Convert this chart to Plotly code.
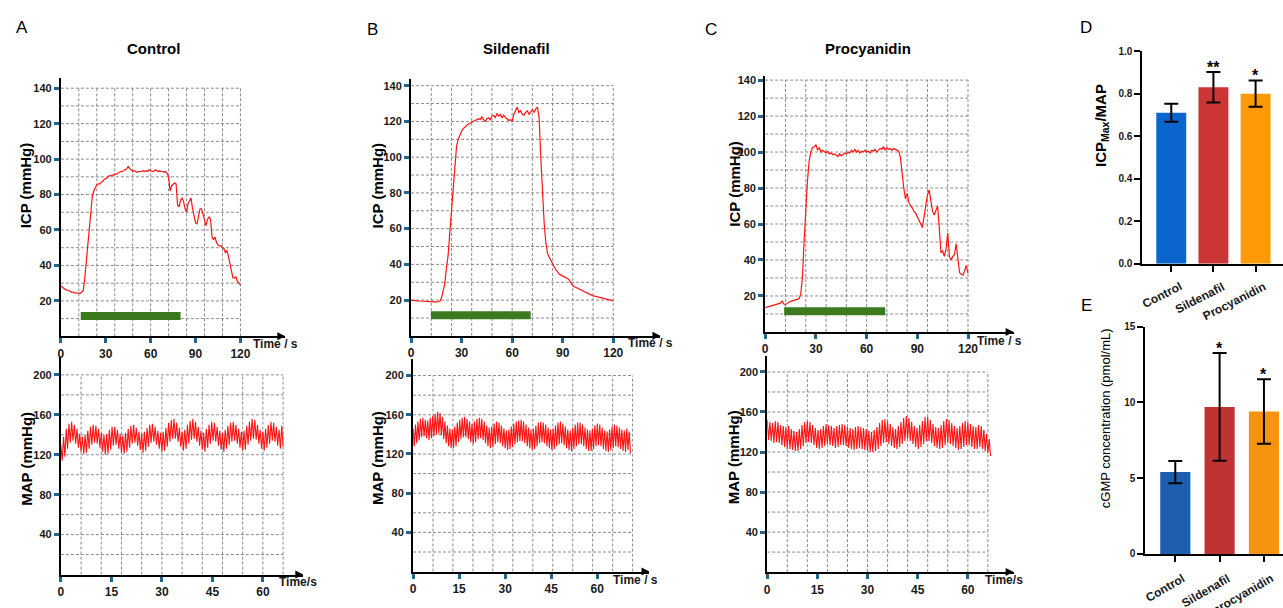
import plotly.graph_objects as go

W, H = 1283, 608

# ---------------- data ----------------
icp_time = list(range(121))
icp_control = [
    28.5, 27.5, 27, 26.5, 26, 26, 25.5, 25, 25, 24.5,
    24.5, 24.5, 24.3, 24.2, 25, 26, 33, 42, 54, 64,
    73, 79, 82, 84, 85.5, 86, 86, 87, 87.5, 88.5,
    89, 89.5, 90.5, 90.5, 91, 91, 91.5, 91.5, 92, 92.5,
    93, 93, 93.5, 94, 94.5, 96, 94.5, 94, 93, 93.5,
    93, 92.5, 93, 93, 93, 93.5, 93, 93.5, 93, 94,
    93.5, 93, 93, 94, 93.5, 93, 93.5, 93, 93, 92.5,
    93, 92, 90, 82, 85, 86, 86.5, 86, 74, 73,
    77, 78, 76, 72, 70, 75, 77, 78, 72, 67,
    64, 63.5, 67, 72, 72, 69, 65, 62.5, 66, 67.5,
    66, 56, 54.5, 56, 53, 51.5, 51, 51, 50, 49.5,
    47, 48.5, 45, 41, 36, 33, 33, 33.5, 31, 30, 29]
icp_sildenafil = [
    20, 20, 19.8, 19.8, 19.6, 19.5, 19.4, 19.3, 19.2, 19.2,
    19.1, 19, 19, 19, 19, 19, 19, 19.2, 21, 25,
    29, 38, 45, 58, 70, 86, 98, 106, 110, 112.5,
    114.5, 116, 117, 118, 118.5, 119, 119.5, 120, 120.5, 121,
    121.5, 121, 122.5, 121, 120, 121.5, 122, 121, 123, 123.5,
    122, 124.5, 123, 124, 122, 123.5, 122, 121.5, 120.5, 121,
    120, 124, 126.5, 128, 125, 126, 124, 123.5, 125, 126,
    124, 125, 126.5, 125, 127, 128, 122, 100, 78, 63,
    52, 46, 44, 42, 40, 38.5, 37, 35.5, 34.5, 34,
    33.5, 33, 32.5, 32, 31, 29.5, 28, 27.5, 27, 26.5,
    26, 25.5, 25, 24.5, 24, 23.5, 23, 22.7, 22.4, 22.2,
    22, 21.8, 21.5, 21.3, 21, 20.8, 20.5, 20.2, 20, 19.8, 19.6]
icp_procyanidin = [
    13.5, 13.8, 14, 14.3, 14.5, 14.8, 15, 15.3, 15.6, 16,
    17.2, 15.5, 15.3, 16, 16.5, 17, 17.3, 17.5, 17.8, 18,
    18.5, 21, 30, 50, 68, 84, 95, 100, 102.5, 103,
    104, 101, 102.5, 100, 101, 100, 99.5, 100.5, 99, 99.5,
    98.5, 99, 98, 97.5, 99, 98, 98.5, 99.5, 99, 100,
    99.5, 101, 100, 101.5, 100, 101, 99.5, 100.5, 100, 101,
    100, 100.5, 99.5, 101, 100.5, 101.5, 100, 101, 102, 101.5,
    103, 101, 102.5, 101.5, 102, 101, 102, 101.5, 101, 100.5,
    97, 87, 80, 74, 77, 72, 70, 69, 67, 66,
    64, 62, 60, 58, 64, 71, 76, 79, 72, 67,
    65, 68, 70, 58, 44, 45, 42, 46, 55, 42,
    40, 42, 43, 49, 42, 33, 32, 31.5, 34, 37, 32.5]

stim_control = [13.3, 80]
stim_sildenafil = [11.8, 71]
stim_procyanidin = [11.2, 71]
stim_level = 11.5

beat_period = 0.8
map_control_hi = [
    130, 138, 146, 151, 153, 150, 146, 141,
    138, 140, 144, 148, 150, 149, 146, 142,
    140, 141, 145, 148, 148, 145, 141,
    139, 142, 146, 149, 150, 147, 143, 141,
    143, 147, 150, 151, 148, 144, 142,
    143, 147, 152, 155, 156, 152, 147, 143,
    145, 150, 154, 156, 153, 148, 144,
    142, 146, 150, 153, 152, 148, 144, 142,
    145, 149, 152, 153, 150, 146, 143,
    144, 149, 153, 156, 155, 150, 145, 143,
    146, 150, 153, 152, 148, 145, 149]
map_control_lo = [
    114, 118, 126, 132, 134, 131, 127, 123,
    121, 122, 126, 130, 132, 131, 127, 123,
    120, 121, 125, 129, 130, 126, 122,
    121, 123, 127, 131, 132, 129, 125, 122,
    124, 128, 132, 133, 130, 126, 123,
    124, 128, 133, 136, 136, 133, 128, 124,
    126, 131, 135, 136, 133, 129, 125,
    123, 127, 131, 134, 133, 129, 125, 123,
    126, 130, 133, 134, 131, 127, 124,
    125, 130, 134, 136, 135, 131, 126, 124,
    127, 131, 134, 133, 129, 126, 128]
map_sildenafil_hi = [
    146, 150, 153, 156, 157, 155, 154, 157,
    159, 161, 163, 162, 158, 153, 149, 146,
    145, 148, 152, 155, 157, 158, 156,
    153, 151, 153, 156, 157, 156, 153, 149,
    147, 148, 151, 153, 152, 149, 146,
    144, 145, 148, 151, 153, 154, 155, 153,
    150, 147, 145, 146, 149, 152, 153,
    152, 150, 147, 145, 146, 149, 152, 153,
    151, 148, 145, 144, 147, 150, 152,
    152, 150, 147, 145, 144, 146, 149, 151,
    150, 147, 144, 143, 145, 148, 150,
    149, 147, 145, 144, 146, 143]
map_sildenafil_lo = [
    128, 131, 134, 137, 138, 136, 134, 136,
    138, 140, 141, 139, 135, 131, 128, 126,
    126, 128, 132, 135, 137, 137, 135,
    132, 130, 132, 135, 136, 134, 131, 128,
    126, 127, 130, 132, 131, 128, 126,
    124, 125, 127, 130, 132, 133, 133, 131,
    128, 126, 124, 125, 128, 131, 132,
    131, 128, 126, 124, 125, 128, 130, 131,
    129, 126, 124, 123, 125, 128, 130,
    130, 128, 125, 123, 123, 125, 128, 129,
    128, 125, 123, 122, 124, 126, 128,
    127, 125, 123, 122, 124, 121]
map_procyanidin_hi = [
    152, 150, 149, 151, 150, 147, 146, 145,
    146, 143, 141, 140, 143, 147, 150, 151,
    150, 147, 144, 142, 143, 146, 148,
    147, 146, 144, 146, 147, 148, 147, 145,
    144, 143, 145, 146, 145, 144, 143,
    141, 140, 142, 145, 149, 152, 153, 151,
    148, 145, 143, 146, 150, 154, 156,
    154, 150, 146, 144, 147, 151, 155, 155,
    152, 148, 145, 144, 147, 151, 153,
    152, 149, 146, 144, 146, 149, 151, 150,
    148, 146, 145, 147, 146, 142, 138, 133]
map_procyanidin_lo = [
    132, 131, 129, 130, 129, 127, 125, 123,
    123, 122, 121, 121, 123, 126, 129, 130,
    129, 127, 124, 123, 124, 126, 128,
    127, 126, 124, 125, 127, 127, 126, 124,
    123, 122, 123, 124, 123, 122, 121,
    120, 120, 121, 123, 126, 129, 130, 128,
    126, 124, 123, 125, 128, 131, 133,
    131, 128, 125, 123, 125, 128, 131, 131,
    129, 126, 124, 123, 124, 127, 129,
    128, 126, 124, 122, 123, 125, 127, 127,
    125, 123, 123, 125, 123, 121, 119, 116]

icp_ticks = [20, 40, 60, 80, 100, 120, 140]
map_ticks = [40, 80, 120, 160, 200]
icp_time_ticks = [0, 30, 60, 90, 120]
map_time_ticks = [0, 15, 30, 45, 60]

groups = ["Control", "Sildenafil", "Procyanidin"]
ratio_mean = [0.71, 0.83, 0.80]
ratio_err = [0.042, 0.072, 0.062]
ratio_sig = ["", "**", "*"]
ratio_ticks = [0.0, 0.2, 0.4, 0.6, 0.8, 1.0]

cgmp_groups = ["Control", "Sildenafil", "procyanidin"]
cgmp_mean = [5.4, 9.7, 9.4]
cgmp_err = [0.74, 3.55, 2.13]
cgmp_sig = ["", "*", "*"]
cgmp_ticks = [0, 5, 10, 15]

# ---------------- styling ----------------
FONT = "Liberation Sans, Arial, sans-serif"
RED = "#ff1414"
TICKBLUE = "#1f6690"
GREEN = "#3b7a1f"
GRIDC = "#8a8a8a"
ratio_colors = ["#0a66cc", "#cc3535", "#ff9a05"]
cgmp_colors = ["#1d5fae", "#c13232", "#f7940f"]


def dom_x(a, b):
    return [a / W, b / W]


def dom_y(top, bottom):
    return [1 - bottom / H, 1 - top / H]


def pp(xp, yp):
    return xp / W, 1 - yp / H


fig = go.Figure()
shapes = []
annotations = []

panels = [
    dict(n=1, xp=(58, 283), yp=(73, 337), xr=(0, 150), yr=(0, 146), gdx=12, gxm=120, gdy=10, gym=140, kind="icp",
         t=icp_time, v=icp_control, stim=stim_control),
    dict(n=2, xp=(58, 301), yp=(358, 580), xr=(0, 72), yr=(0, 218), gdx=6, gxm=66, gdy=20, gym=200, kind="map",
         hi=map_control_hi, lo=map_control_lo),
    dict(n=3, xp=(409, 659), yp=(74, 336.5), xr=(0, 148), yr=(0, 144), gdx=12, gxm=120, gdy=10, gym=140, kind="icp",
         t=icp_time, v=icp_sildenafil, stim=stim_sildenafil),
    dict(n=4, xp=(411, 648), yp=(360, 577), xr=(0, 77), yr=(0, 217), gdx=6.5, gxm=71.5, gdy=20, gym=200, kind="map",
         hi=map_sildenafil_hi, lo=map_sildenafil_lo),
    dict(n=5, xp=(764, 1013), yp=(71, 332.5), xr=(0, 147), yr=(0, 142.5), gdx=12, gxm=120, gdy=10, gym=140, kind="icp",
         t=icp_time, v=icp_procyanidin, stim=stim_procyanidin),
    dict(n=6, xp=(766, 1013), yp=(357, 577.5), xr=(0, 73.7), yr=(0, 216), gdx=6, gxm=66, gdy=20, gym=200, kind="map",
         hi=map_procyanidin_hi, lo=map_procyanidin_lo),
]

layout_axes = {}
for p in panels:
    n = p["n"]
    xa = "x" if n == 1 else f"x{n}"
    ya = "y" if n == 1 else f"y{n}"
    xkey = "xaxis" if n == 1 else f"xaxis{n}"
    ykey = "yaxis" if n == 1 else f"yaxis{n}"
    icp = p["kind"] == "icp"
    layout_axes[xkey] = dict(
        domain=dom_x(*p["xp"]), range=list(p["xr"]), anchor=ya,
        showline=True, linecolor="black", linewidth=2, showgrid=False, zeroline=False,
        ticks="outside", ticklen=5, tickwidth=3, tickcolor=TICKBLUE,
        tickvals=icp_time_ticks if icp else map_time_ticks,
        tickfont=dict(family=FONT, size=12, color="#1a1a1a", weight="bold"),
    )
    layout_axes[ykey] = dict(
        domain=dom_y(*p["yp"]), range=list(p["yr"]), anchor=xa,
        showline=True, linecolor="black", linewidth=2, showgrid=False, zeroline=False,
        ticks="outside", ticklen=5, tickwidth=3, tickcolor=TICKBLUE,
        tickvals=icp_ticks if icp else map_ticks,
        tickfont=dict(family=FONT, size=11, color="#1a1a1a", weight="bold"),
    )
    k = 1
    while p["gdx"] * k <= p["gxm"] + 1e-6:
        gx = p["gdx"] * k
        shapes.append(dict(type="line", xref=xa, yref=ya, x0=gx, x1=gx, y0=0, y1=p["gym"],
                           line=dict(color=GRIDC, width=1, dash="3px,2px"), layer="below"))
        k += 1
    k = 1
    while p["gdy"] * k <= p["gym"] + 1e-6:
        gy = p["gdy"] * k
        shapes.append(dict(type="line", xref=xa, yref=ya, x0=0, x1=p["gxm"], y0=gy, y1=gy,
                           line=dict(color=GRIDC, width=1, dash="3px,2px"), layer="below"))
        k += 1
    if icp:
        fig.add_trace(go.Scatter(x=p["stim"], y=[stim_level, stim_level], mode="lines",
                                 line=dict(color=GREEN, width=8), xaxis=xa, yaxis=ya,
                                 showlegend=False, hoverinfo="skip"))
        fig.add_trace(go.Scatter(x=p["t"], y=p["v"], mode="lines",
                                 line=dict(color=RED, width=1.2), xaxis=xa, yaxis=ya,
                                 showlegend=False))
    else:
        tt, vv = [], []
        for i, (h, l) in enumerate(zip(p["hi"], p["lo"])):
            tt += [i * beat_period, i * beat_period + beat_period / 2]
            vv += [h, l]
        fig.add_trace(go.Scatter(x=tt, y=vv, mode="lines", line=dict(color=RED, width=1.1),
                                 xaxis=xa, yaxis=ya, showlegend=False))
    x0p, x1p = p["xp"]
    y0p, y1p = p["yp"]
    tx, ty = pp(x1p, y1p)
    annotations.append(dict(x=tx, y=ty, xref="paper", yref="paper", ax=-9, ay=0, text=" ",
                            showarrow=True, arrowhead=2, arrowsize=1, arrowwidth=1.6, arrowcolor="black"))
    tx, ty = pp(x0p, y0p)
    annotations.append(dict(x=tx, y=ty, xref="paper", yref="paper", ax=0, ay=9, text=" ",
                            showarrow=True, arrowhead=2, arrowsize=1, arrowwidth=1.6, arrowcolor="black"))

time_labels = [("Time / s", 273, 345), ("Time/s", 296, 588), ("Time / s", 649, 344),
               ("Time / s", 634, 586), ("Time / s", 999, 342), ("Time/s", 1003, 586)]
for txt, xp_, yp_ in time_labels:
    x_, y_ = pp(xp_, yp_)
    annotations.append(dict(x=x_, y=y_, xref="paper", yref="paper", text=txt, showarrow=False,
                            font=dict(family=FONT, size=12, color="#1a1a1a", weight="bold"),
                            xanchor="center", yanchor="middle"))

for txt, xp_, yp_ in [("Control", 151, 43), ("Sildenafil", 515, 43), ("Procyanidin", 867, 43)]:
    x_, y_ = pp(xp_, yp_)
    annotations.append(dict(x=x_, y=y_, xref="paper", yref="paper", text=txt, showarrow=False,
                            font=dict(family=FONT, size=15, color="black", weight="bold"),
                            xanchor="center", yanchor="middle"))

for txt, xp_, yp_ in [("A", 19, 22), ("B", 370, 24), ("C", 710, 24), ("D", 1086, 22), ("E", 1086, 306)]:
    x_, y_ = pp(xp_, yp_)
    annotations.append(dict(x=x_, y=y_, xref="paper", yref="paper", text=txt, showarrow=False,
                            font=dict(family=FONT, size=17, color="black"),
                            xanchor="center", yanchor="middle"))

for txt, xp_, yp_ in [("ICP (mmHg)", 22, 183), ("MAP (mmHg)", 24, 462), ("ICP (mmHg)", 375, 183),
                      ("MAP (mmHg)", 376, 461), ("ICP (mmHg)", 733, 181), ("MAP (mmHg)", 733, 460),
                      ("ICP<sub>Max</sub>/MAP", 1101, 122)]:
    x_, y_ = pp(xp_, yp_)
    annotations.append(dict(x=x_, y=y_, xref="paper", yref="paper", text=txt, showarrow=False,
                            textangle=-90, font=dict(family=FONT, size=15, color="black", weight="bold"),
                            xanchor="center", yanchor="middle"))
x_, y_ = pp(1105, 420)
annotations.append(dict(x=x_, y=y_, xref="paper", yref="paper", text="cGMP concentration (pmol/mL)",
                        showarrow=False, textangle=-90,
                        font=dict(family=FONT, size=13, color="black"),
                        xanchor="center", yanchor="middle"))

# ---------------- bar panels ----------------
fig.add_trace(go.Bar(x=groups, y=ratio_mean, marker=dict(color=ratio_colors, line=dict(width=0)),
                     width=0.71,
                     error_y=dict(type="data", array=ratio_err, color="black", thickness=2, width=7),
                     xaxis="x7", yaxis="y7", showlegend=False))
fig.add_trace(go.Bar(x=cgmp_groups, y=cgmp_mean, marker=dict(color=cgmp_colors, line=dict(width=0)),
                     width=0.68,
                     error_y=dict(type="data", array=cgmp_err, color="black", thickness=2, width=7),
                     xaxis="x8", yaxis="y8", showlegend=False))

for g, m, e, s in zip(groups, ratio_mean, ratio_err, ratio_sig):
    if s:
        annotations.append(dict(x=g, y=m + e, xref="x7", yref="y7", text=s, showarrow=False,
                                yanchor="bottom", yshift=-6,
                                font=dict(family=FONT, size=16, color="black", weight="bold")))
for g, m, e, s in zip(cgmp_groups, cgmp_mean, cgmp_err, cgmp_sig):
    if s:
        annotations.append(dict(x=g, y=m + e, xref="x8", yref="y8", text=s, showarrow=False,
                                yanchor="bottom", yshift=-6,
                                font=dict(family=FONT, size=16, color="black", weight="bold")))

# rotated category labels (top-right end of each label near its tick)
for g in groups:
    annotations.append(dict(x=g, xref="x7", y=pp(0, 276)[1], yref="paper", text=g, showarrow=False,
                            textangle=-27, xanchor="right", yanchor="top", xshift=16,
                            font=dict(family=FONT, size=12, color="#1a1a1a", weight="bold")))
for g in cgmp_groups:
    annotations.append(dict(x=g, xref="x8", y=pp(0, 574)[1], yref="paper", text=g, showarrow=False,
                            textangle=-30, xanchor="right", yanchor="top", xshift=15,
                            font=dict(family=FONT, size=12, color="#1a1a1a", weight="bold")))

bar_x_common = dict(showline=True, linecolor="black", linewidth=2, showgrid=False, zeroline=False,
                    ticks="outside", ticklen=6, tickwidth=2, tickcolor="black", showticklabels=False)
bar_y_common = dict(showline=True, linecolor="black", linewidth=2, showgrid=False, zeroline=False,
                    ticks="outside", ticklen=6, tickwidth=2, tickcolor="black",
                    tickfont=dict(family=FONT, size=10, color="#1a1a1a", weight="bold"))
layout_axes["xaxis7"] = dict(domain=dom_x(1142, 1283), range=[-0.686, 2.65], anchor="y7",
                             type="category", **bar_x_common)
layout_axes["yaxis7"] = dict(domain=dom_y(46, 263), range=[0, 1.0], anchor="x7",
                             tickvals=ratio_ticks, tickformat=".1f", **bar_y_common)
layout_axes["xaxis8"] = dict(domain=dom_x(1145, 1283), range=[-0.676, 2.43], anchor="y8",
                             type="category", **bar_x_common)
layout_axes["yaxis8"] = dict(domain=dom_y(327, 559), range=[0, 15], anchor="x8",
                             tickvals=cgmp_ticks, **bar_y_common)

fig.update_layout(
    width=W, height=H, autosize=False,
    margin=dict(l=0, r=0, t=0, b=0),
    paper_bgcolor="white", plot_bgcolor="white",
    shapes=shapes, annotations=annotations,
    font=dict(family=FONT),
    **layout_axes,
)

fig.write_html("out.html", config={"displayModeBar": False},
               post_script="document.body.style.margin='0px';document.body.style.overflow='hidden';")
